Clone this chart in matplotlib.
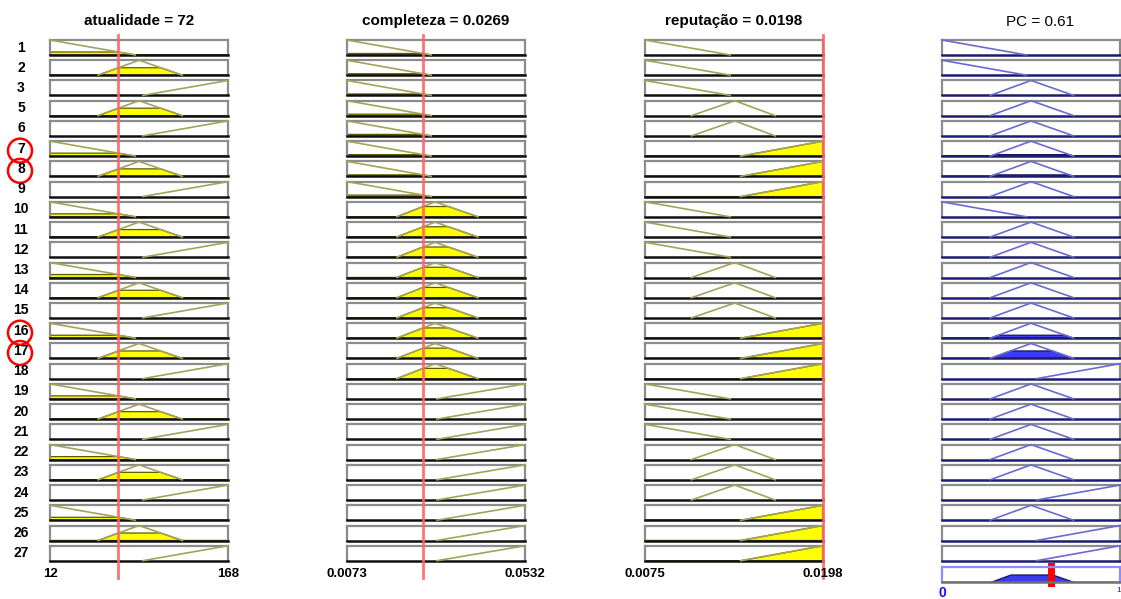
import numpy as np
import matplotlib
matplotlib.use('Agg')
import matplotlib.pyplot as plt
from matplotlib.patches import Circle

plt.rcParams['font.family'] = ['Liberation Sans', 'DejaVu Sans']

W, H = 1121, 599

# rule numbers on the left (rule 4 is not in the base)
rule_ids = [1, 2, 3, 5, 6, 7, 8, 9, 10, 11, 12, 13, 14, 15, 16, 17, 18,
            19, 20, 21, 22, 23, 24, 25, 26, 27]
highlighted = [7, 8, 16, 17]

# membership function index used by each rule: 0 = baixo, 1 = medio, 2 = alto
atualidade_rule = [0, 1, 2, 1, 2, 0, 1, 2, 0, 1, 2, 0, 1, 2, 0, 1, 2,
                   0, 1, 2, 0, 1, 2, 0, 1, 2]
completeza_rule = [0, 0, 0, 0, 0, 0, 0, 0, 1, 1, 1, 1, 1, 1, 1, 1, 1,
                   2, 2, 2, 2, 2, 2, 2, 2, 2]
reputacao_rule = [0, 0, 0, 1, 1, 2, 2, 2, 0, 0, 0, 1, 1, 1, 2, 2, 2,
                  0, 0, 0, 1, 1, 1, 2, 2, 2]
pc_rule = [0, 0, 1, 1, 1, 1, 1, 1, 0, 1, 1, 1, 1, 1, 1, 1, 2,
           1, 1, 1, 1, 1, 2, 1, 2, 2]

# variable ranges, current inputs and triangular mf parameters (a, b, c)
atualidade_range = [12, 168]
atualidade_value = 72
atualidade_mfs = [[12, 12, 87], [54, 90, 128], [93, 168, 168]]

completeza_range = [0.0073, 0.0532]
completeza_value = 0.0269
completeza_mfs = [[0.0073, 0.0073, 0.0291], [0.0201, 0.0300, 0.0411],
                  [0.0304, 0.0532, 0.0532]]

reputacao_range = [0.0075, 0.0198]
reputacao_value = 0.0198
reputacao_mfs = [[0.0075, 0.0075, 0.0134], [0.0107, 0.0137, 0.0165],
                 [0.0141, 0.0198, 0.0198]]

pc_range = [0, 1]
pc_value = 0.61
pc_mfs = [[0, 0, 0.476], [0.27, 0.50, 0.74], [0.53, 1, 1]]

titles = ['atualidade = 72', 'completeza = 0.0269', u'reputação = 0.0198']
range_labels = [['12', '168'], ['0.0073', '0.0532'], ['0.0075', '0.0198']]

# layout in pixels
col_left = [50, 347, 645, 942]
box_w, box_h = 178, 15
row_top0, row_step = 40, 20.23
agg_top = 567


def trimf(x, p):
    a, b, c = p
    x = np.asarray(x, dtype=float)
    if b > a:
        left = (x - a) / (b - a)
    else:
        left = np.where(x >= a, 1.0, 0.0)
    if c > b:
        right = (c - x) / (c - b)
    else:
        right = np.where(x <= c, 1.0, 0.0)
    return np.clip(np.minimum(left, right), 0, 1)


def cell_axes(fig, left, top, edge='#8c8c8c', bottom='#101010'):
    ax = fig.add_axes([left / W, 1 - (top + box_h) / H, box_w / W, box_h / H])
    ax.set_xticks([])
    ax.set_yticks([])
    for side in ('top', 'left', 'right'):
        ax.spines[side].set_color(edge)
        ax.spines[side].set_linewidth(1.6)
    ax.spines['bottom'].set_color(bottom)
    ax.spines['bottom'].set_linewidth(1.8)
    ax.set_ylim(0, 1)
    return ax


def draw_mf(ax, rng, p, level, line_c, fill_c, edge_c):
    x = np.linspace(rng[0], rng[1], 500)
    y = trimf(x, p)
    ax.set_xlim(rng)
    if level > 0:
        ax.fill(np.r_[x, x[::-1]], np.r_[np.minimum(y, level), np.zeros_like(x)],
                facecolor=fill_c, edgecolor=edge_c, lw=0.9, zorder=2)
    ax.plot(x[y > 0], y[y > 0], color=line_c, lw=1.2, clip_on=False, zorder=3)


fig = plt.figure(figsize=(W / 100, H / 100), dpi=100)
fig.patch.set_facecolor('white')

inputs = [
    (atualidade_range, atualidade_value, atualidade_mfs, atualidade_rule),
    (completeza_range, completeza_value, completeza_mfs, completeza_rule),
    (reputacao_range, reputacao_value, reputacao_mfs, reputacao_rule),
]

firing = np.ones(len(rule_ids))
for c, (rng, val, mfs, rule) in enumerate(inputs):
    for i, k in enumerate(rule):
        mu = float(trimf(val, mfs[k]))
        firing[i] = min(firing[i], mu)
        ax = cell_axes(fig, col_left[c], row_top0 + i * row_step)
        draw_mf(ax, rng, mfs[k], mu, '#a3a35a', '#ffff00', '#5a5a00')

# output column
xs = np.linspace(pc_range[0], pc_range[1], 500)
agg = np.zeros_like(xs)
for i, k in enumerate(pc_rule):
    ax = cell_axes(fig, col_left[3], row_top0 + i * row_step, bottom='#1c1c70')
    draw_mf(ax, pc_range, pc_mfs[k], firing[i], '#6a6ad2', '#3c3cf0', '#14145a')
    agg = np.maximum(agg, np.minimum(trimf(xs, pc_mfs[k]), firing[i]))

ax = cell_axes(fig, col_left[3], agg_top, edge='#8c8cff', bottom='#707070')
ax.set_xlim(pc_range)
ax.fill_between(xs, 0, agg, facecolor='#3c3cf0', edgecolor='#14145a', lw=0.9)
ax.axvline(pc_value, ymin=-0.05, ymax=1.05, color='#ff0000', lw=5, clip_on=False)

# red lines at the current input values
for c, (rng, val, mfs, rule) in enumerate(inputs):
    ov = fig.add_axes([col_left[c] / W, 1 - 578 / H, box_w / W, (578 - 35) / H])
    ov.set_xlim(rng)
    ov.set_ylim(0, 1)
    ov.axis('off')
    ov.axvline(val, color='#ff6464', lw=2, alpha=0.9, clip_on=False)

# titles and range labels
for c in range(3):
    cx = col_left[c] + box_w / 2
    fig.text(cx / W, 1 - 21 / H, titles[c], ha='center', va='center',
             fontsize=11, fontweight='bold')
    fig.text(col_left[c] / W, 1 - 574 / H, range_labels[c][0], ha='center',
             va='center', fontsize=9.5, fontweight='bold')
    fig.text((col_left[c] + box_w) / W, 1 - 574 / H, range_labels[c][1],
             ha='center', va='center', fontsize=9.5, fontweight='bold')
fig.text(1040 / W, 1 - 22 / H, 'PC = 0.61', ha='center', va='center', fontsize=11)
fig.text(942 / W, 1 - 593 / H, '0', ha='center', va='center', fontsize=10,
         fontweight='bold', color='#1010ff')
fig.text(1119 / W, 1 - 591 / H, '1', ha='center', va='center', fontsize=6,
         color='#1010ff')

# rule numbers with the fired rules circled
lab = fig.add_axes([0, 0, 1, 1])
lab.set_xlim(0, W)
lab.set_ylim(H, 0)
lab.axis('off')
for i, r in enumerate(rule_ids):
    cy = row_top0 + i * row_step + box_h / 2
    lab.text(21, cy, str(r), ha='center', va='center', fontsize=10,
             fontweight='bold')
    if r in highlighted:
        lab.add_patch(Circle((20, cy + 2), 12, fill=False, edgecolor='#ff0000',
                             lw=1.8))

fig.savefig('out.png', dpi=100)
